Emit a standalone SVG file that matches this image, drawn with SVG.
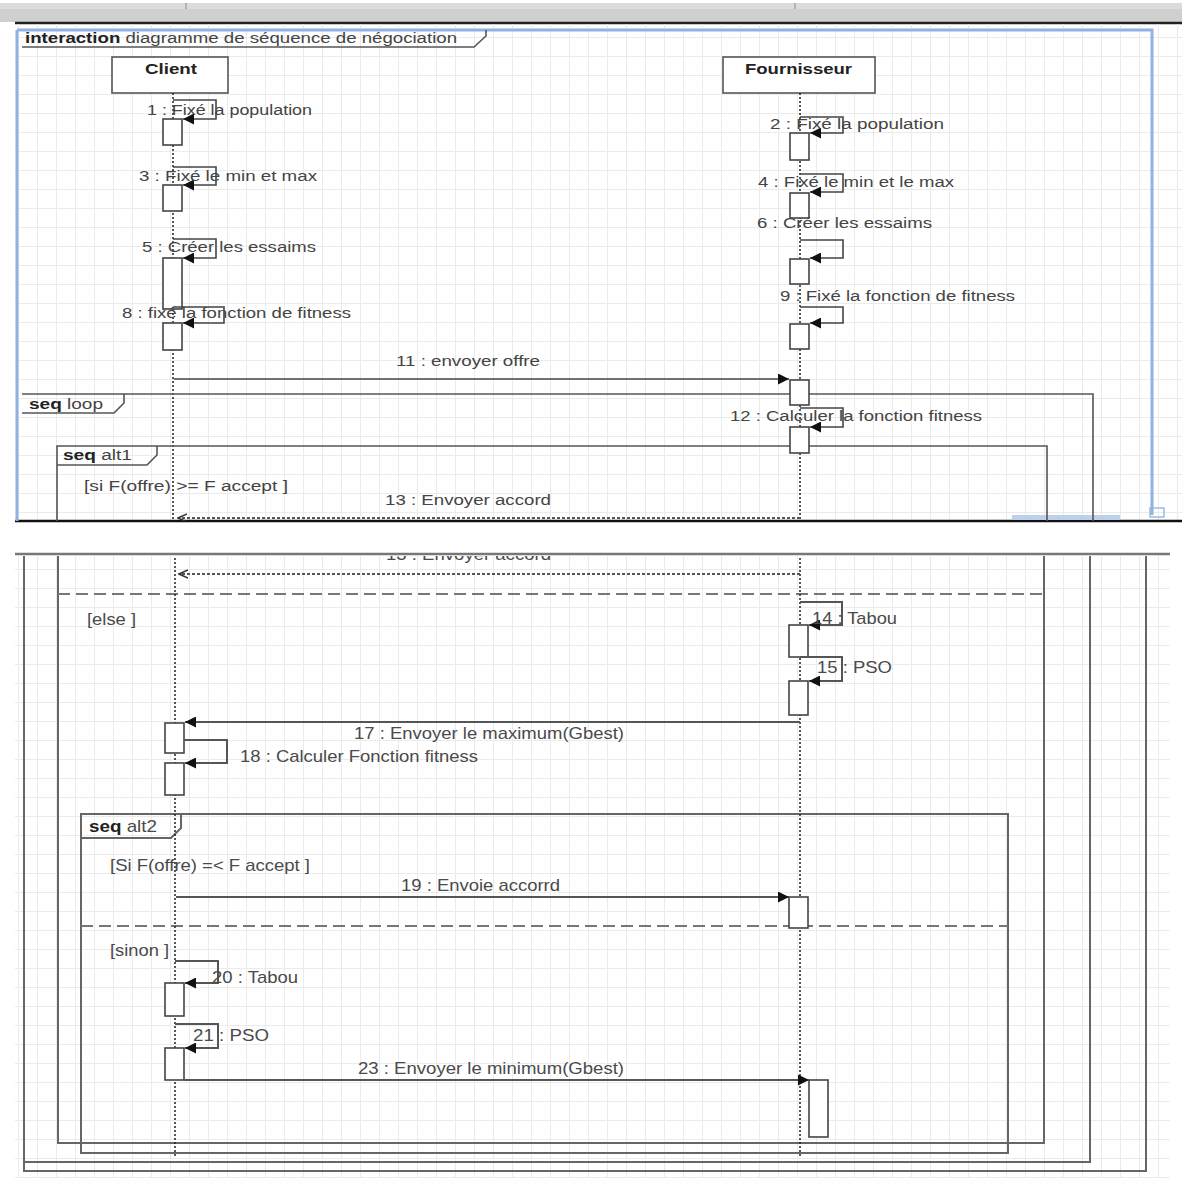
<svg xmlns="http://www.w3.org/2000/svg" width="1182" height="1178" viewBox="0 0 1182 1178">
<style>
.t{font-family:"Liberation Sans",Arial,sans-serif;font-size:14px;fill:#444}
.b{font-family:"Liberation Sans",Arial,sans-serif;font-size:17px;fill:#4a4a4a}
.bold{font-weight:bold;fill:#222}
.fr{fill:none;stroke:#555;stroke-width:1.6}
.frb{fill:none;stroke:#666;stroke-width:2}
.act{fill:#fff;stroke:#444;stroke-width:1.6}
.life{stroke:#222;stroke-width:1.5;stroke-dasharray:2 2}
.msg{fill:none;stroke:#444;stroke-width:1.6}
.msgb{fill:none;stroke:#555;stroke-width:2}
.rep{fill:none;stroke:#555;stroke-width:1.8;stroke-dasharray:3 2}
.div{fill:none;stroke:#777;stroke-width:2;stroke-dasharray:12 6}
.blue{stroke:#8fb2e3;stroke-width:3;fill:none}
</style>
<defs>
<pattern id="grid" width="19" height="19" patternUnits="userSpaceOnUse">
<path d="M18.5,0 V19 M0,18.5 H19" stroke="#ebebeb" stroke-width="1" fill="none"/>
</pattern>
<marker id="arr" viewBox="0 0 10 10" refX="10" refY="5" markerWidth="15" markerHeight="11" markerUnits="userSpaceOnUse" orient="auto">
<path d="M0,0 L10,5 L0,10 z" fill="#111"/>
</marker>
<marker id="open" viewBox="0 0 10 10" refX="9" refY="5" markerWidth="10" markerHeight="10" markerUnits="userSpaceOnUse" orient="auto">
<path d="M0,1 L9,5 L0,9" fill="none" stroke="#333" stroke-width="1.5"/>
</marker>
<clipPath id="clipTop"><rect x="0" y="24" width="1182" height="497"/></clipPath>
<clipPath id="clipBot"><rect x="0" y="556" width="1182" height="622"/></clipPath>
</defs>

<rect width="1182" height="1178" fill="#fff"/>

<g id="chrome">
<rect x="0" y="3" width="1182" height="19" fill="#cfcfcf"/>
<rect x="0" y="3" width="1182" height="6" fill="#dcdcdc"/>
<line x1="186" y1="3" x2="186" y2="9" stroke="#888" stroke-width="1"/>
<line x1="795" y1="3" x2="795" y2="9" stroke="#888" stroke-width="1"/>
<line x1="15" y1="23" x2="1182" y2="23" stroke="#222" stroke-width="2.5"/>
<rect x="15" y="24" width="1167" height="497" fill="url(#grid)"/>
<rect x="15" y="556" width="1155" height="622" fill="url(#grid)"/>
<line x1="15" y1="521" x2="1182" y2="521" stroke="#111" stroke-width="2.5"/>
<line x1="15" y1="554" x2="1170" y2="554" stroke="#777" stroke-width="2.5"/>
<rect x="1012" y="515" width="108" height="5" fill="#bcd0ec"/>
<rect x="1150" y="508" width="14" height="9" fill="none" stroke="#9bbbe6" stroke-width="1.5"/>
</g>

<g id="top" clip-path="url(#clipTop)">
<g id="frame-interaction">
<path class="blue" d="M17,30 H1152 V515 M17,30 V521"/>
<path class="fr" d="M22,47 H474 L486,36 V30"/>
<text class="t" x="25" y="43" textLength="432" lengthAdjust="spacingAndGlyphs"><tspan class="bold">interaction</tspan> diagramme de séquence de négociation</text>
</g>

<g id="client">
<rect x="112" y="57" width="116" height="36" fill="#fff" stroke="#555" stroke-width="1.6"/>
<text class="t bold" x="145" y="74" textLength="52" lengthAdjust="spacingAndGlyphs">Client</text>
<line class="life" x1="173" y1="93" x2="173" y2="521"/>
</g>
<g id="fournisseur">
<rect x="723" y="57" width="152" height="36" fill="#fff" stroke="#555" stroke-width="1.6"/>
<text class="t bold" x="745" y="74" textLength="107" lengthAdjust="spacingAndGlyphs">Fournisseur</text>
<line class="life" x1="800" y1="93" x2="800" y2="521"/>
</g>

<g id="frame-loop">
<path class="fr" d="M22,394 H1093 V521"/>
<path class="fr" d="M22,413 H114 L124,403 V394"/>
<text class="t" x="29" y="409" textLength="74" lengthAdjust="spacingAndGlyphs"><tspan class="bold">seq</tspan>  loop</text>
</g>
<g id="frame-alt1">
<path class="fr" d="M57,521 V446 H1047 V521"/>
<path class="fr" d="M57,465 H147 L157,455 V446"/>
<text class="t" x="63" y="460" textLength="69" lengthAdjust="spacingAndGlyphs"><tspan class="bold">seq</tspan>  alt1</text>
<text class="t" x="84" y="491" textLength="204" lengthAdjust="spacingAndGlyphs">[si  F(offre) &gt;= F accept ]</text>
</g>

<g id="activations-top">
<rect class="act" x="163" y="119" width="19" height="26"/>
<rect class="act" x="163" y="185" width="19" height="26"/>
<rect class="act" x="163" y="258" width="19" height="51"/>
<rect class="act" x="163" y="323" width="19" height="27"/>
<rect class="act" x="790" y="133" width="19" height="27"/>
<rect class="act" x="790" y="193" width="19" height="25"/>
<rect class="act" x="790" y="259" width="19" height="25"/>
<rect class="act" x="790" y="324" width="19" height="25"/>
<rect class="act" x="790" y="380" width="19" height="25"/>
<rect class="act" x="790" y="427" width="19" height="26"/>
</g>

<g id="connectors-top">
<path class="msg" marker-end="url(#arr)" d="M173,100 H216 V119 H183"/>
<path class="msg" marker-end="url(#arr)" d="M173,167 H216 V185 H183"/>
<path class="msg" marker-end="url(#arr)" d="M173,239 H216 V258 H183"/>
<path class="msg" marker-end="url(#arr)" d="M173,307 H224 V323 H183"/>
<path class="msg" marker-end="url(#arr)" d="M800,117 H843 V133 H810"/>
<path class="msg" marker-end="url(#arr)" d="M800,174 H843 V192 H810"/>
<path class="msg" marker-end="url(#arr)" d="M800,240 H843 V258 H810"/>
<path class="msg" marker-end="url(#arr)" d="M800,307 H843 V323 H810"/>
<path class="msg" marker-end="url(#arr)" d="M174,379 H789"/>
<path class="msg" marker-end="url(#arr)" d="M800,408 H843 V427 H810"/>
<path class="rep" marker-end="url(#open)" d="M800,518 H178"/>
</g>

<g id="labels-top">
<text class="t" x="147" y="115" textLength="165" lengthAdjust="spacingAndGlyphs">1 : Fixé la population</text>
<text class="t" x="139" y="181" textLength="178" lengthAdjust="spacingAndGlyphs">3 : Fixé le min et max</text>
<text class="t" x="142" y="252" textLength="174" lengthAdjust="spacingAndGlyphs">5 : Créer les essaims</text>
<text class="t" x="122" y="318" textLength="229" lengthAdjust="spacingAndGlyphs">8 : fixé la fonction de fitness</text>
<text class="t" x="770" y="129" textLength="174" lengthAdjust="spacingAndGlyphs">2 : Fixé la population</text>
<text class="t" x="758" y="187" textLength="196" lengthAdjust="spacingAndGlyphs">4 : Fixé le min et le max</text>
<text class="t" x="757" y="228" textLength="175" lengthAdjust="spacingAndGlyphs">6 : Créer les essaims</text>
<text class="t" x="780" y="301" textLength="235" lengthAdjust="spacingAndGlyphs">9 : Fixé la fonction de fitness</text>
<text class="t" x="396" y="366" textLength="144" lengthAdjust="spacingAndGlyphs">11 : envoyer offre</text>
<text class="t" x="730" y="421" textLength="252" lengthAdjust="spacingAndGlyphs">12 : Calculer la fonction fitness</text>
<text class="t" x="385" y="505" textLength="166" lengthAdjust="spacingAndGlyphs">13 : Envoyer accord</text>
</g>
</g>

<g id="bottom" clip-path="url(#clipBot)">
<g id="frames-bottom">
<path class="frb" d="M24,554 V1171 H1146 V554"/>
<path class="frb" d="M24,1162 H1090 V554"/>
<path class="frb" d="M58,554 V1143 H1044 V554"/>
<path class="div" d="M58,594 H1044"/>
<path class="frb" d="M81,814 H1008 V1153 H81 Z"/>
<path class="frb" d="M81,838 H171 L181,828 V814"/>
<path class="div" d="M81,926 H1008"/>
</g>
<g id="lifelines-bottom">
<line class="life" x1="175" y1="554" x2="175" y2="1158"/>
<line class="life" x1="800" y1="554" x2="800" y2="1158"/>
</g>
<text class="b" x="386" y="560" textLength="165" lengthAdjust="spacingAndGlyphs">13 : Envoyer accord</text>
<text class="b" x="87" y="625" textLength="49" lengthAdjust="spacingAndGlyphs">[else ]</text>
<text class="b" x="89" y="832" textLength="68" lengthAdjust="spacingAndGlyphs"><tspan class="bold">seq</tspan> alt2</text>
<text class="b" x="110" y="871" textLength="200" lengthAdjust="spacingAndGlyphs">[Si F(offre) =&lt; F accept ]</text>
<text class="b" x="110" y="956" textLength="59" lengthAdjust="spacingAndGlyphs">[sinon ]</text>

<g id="activations-bottom">
<rect class="act" x="789" y="625" width="19" height="32"/>
<rect class="act" x="789" y="681" width="19" height="34"/>
<rect class="act" x="165" y="723" width="19" height="30"/>
<rect class="act" x="165" y="763" width="19" height="32"/>
<rect class="act" x="789" y="897" width="19" height="31"/>
<rect class="act" x="165" y="983" width="19" height="33"/>
<rect class="act" x="165" y="1048" width="19" height="32"/>
<rect class="act" x="809" y="1080" width="19" height="57"/>
</g>

<g id="connectors-bottom">
<path class="rep" stroke-dasharray="4 3" marker-end="url(#open)" d="M800,574 H179"/>
<path class="msgb" marker-end="url(#arr)" d="M800,602 H842 V625 H809"/>
<path class="msgb" marker-end="url(#arr)" d="M800,657 H842 V681 H809"/>
<path class="msgb" marker-end="url(#arr)" d="M800,722 H185"/>
<path class="msgb" marker-end="url(#arr)" d="M184,740 H227 V763 H185"/>
<path class="msgb" marker-end="url(#arr)" d="M176,897 H789"/>
<path class="msgb" marker-end="url(#arr)" d="M175,961 H218 V983 H185"/>
<path class="msgb" marker-end="url(#arr)" d="M175,1024 H218 V1048 H185"/>
<path class="msgb" marker-end="url(#arr)" d="M184,1080 H809"/>
</g>

<g id="labels-bottom">
<text class="b" x="812" y="624" textLength="85" lengthAdjust="spacingAndGlyphs">14 : Tabou</text>
<text class="b" x="817" y="673" textLength="75" lengthAdjust="spacingAndGlyphs">15 : PSO</text>
<text class="b" x="354" y="739" textLength="270" lengthAdjust="spacingAndGlyphs">17 : Envoyer le maximum(Gbest)</text>
<text class="b" x="240" y="762" textLength="238" lengthAdjust="spacingAndGlyphs">18 : Calculer Fonction fitness</text>
<text class="b" x="401" y="891" textLength="159" lengthAdjust="spacingAndGlyphs">19 : Envoie accorrd</text>
<text class="b" x="212" y="983" textLength="86" lengthAdjust="spacingAndGlyphs">20 : Tabou</text>
<text class="b" x="193" y="1041" textLength="76" lengthAdjust="spacingAndGlyphs">21 : PSO</text>
<text class="b" x="358" y="1074" textLength="266" lengthAdjust="spacingAndGlyphs">23 : Envoyer le minimum(Gbest)</text>
</g>
</g>
</svg>
